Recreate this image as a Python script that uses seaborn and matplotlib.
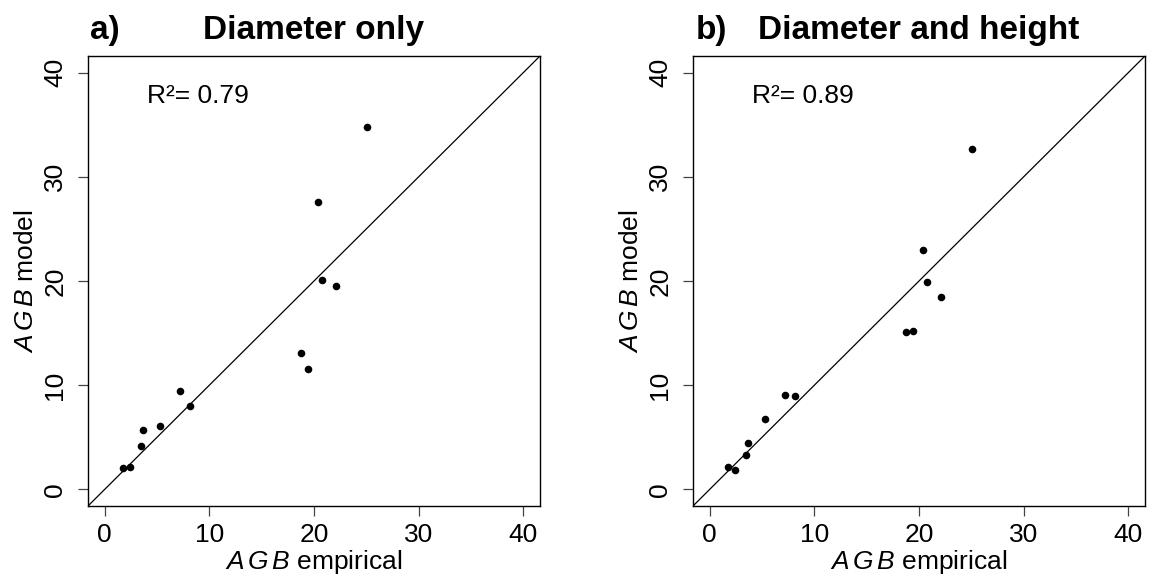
import matplotlib
matplotlib.use("Agg")
import matplotlib.pyplot as plt
import seaborn as sns
import pandas as pd

# AGB values
agb_empirical = [1.75, 2.43, 3.45, 3.70, 5.31, 7.21, 8.16, 18.77, 19.47, 20.40, 20.75, 22.13, 25.10]
agb_model_diam = [2.08, 2.14, 4.18, 5.72, 6.10, 9.46, 8.02, 13.07, 11.54, 27.58, 20.07, 19.56, 34.78]
agb_model_diam_height = [2.14, 1.85, 3.32, 4.41, 6.78, 9.04, 8.95, 15.08, 15.24, 22.94, 19.91, 18.44, 32.66]

panel_tags = ["a)", "b)"]
panel_titles = ["Diameter only", "Diameter and height"]
r2_labels = ["R²= 0.79", "R²= 0.89"]
ticks = [0, 10, 20, 30, 40]

sns.set_style("ticks")
plt.rcParams["font.family"] = ["Liberation Sans", "DejaVu Sans"]
plt.rcParams["mathtext.fontset"] = "custom"
plt.rcParams["mathtext.it"] = "Liberation Sans:italic"
plt.rcParams["mathtext.rm"] = "Liberation Sans"
for k in ["text.color", "axes.labelcolor", "xtick.labelcolor", "ytick.labelcolor"]:
    plt.rcParams[k] = "black"

fig = plt.figure(figsize=(11.49, 5.79), dpi=100)
lefts = [88 / 1149, 693 / 1149]
w = 452 / 1149
b = 73 / 579
h = 450 / 579

for i, model in enumerate([agb_model_diam, agb_model_diam_height]):
    ax = fig.add_axes([lefts[i], b, w, h])
    df = pd.DataFrame({"emp": agb_empirical, "mod": model})
    lo, hi = -1.6, 41.6
    ax.plot([lo, hi], [lo, hi], color="black", lw=0.9)
    sns.scatterplot(data=df, x="emp", y="mod", ax=ax, color="black",
                    s=30, edgecolor="black", linewidth=0, zorder=3)
    ax.set_xlim(lo, hi)
    ax.set_ylim(lo, hi)
    ax.set_xticks(ticks)
    ax.set_yticks(ticks)
    ax.set_xticklabels([str(t) for t in ticks], fontsize=19)
    ax.set_yticklabels([str(t) for t in ticks], fontsize=19, rotation=90, va="center")
    ax.tick_params(axis="both", direction="out", length=7, width=0.9, color="#444444")
    ax.tick_params(axis="x", pad=5)
    ax.tick_params(axis="y", pad=8)
    for s in ax.spines.values():
        s.set_visible(True)
        s.set_linewidth(1.0)
        s.set_color("black")
    ax.set_xlabel(r"$\mathit{A\,G\,B}$ empirical", fontsize=19, labelpad=1)
    ax.set_ylabel(r"$\mathit{A\,G\,B}$ model", fontsize=19, labelpad=4)
    ax.text(4.0, 37.8, r2_labels[i], fontsize=19, ha="left", va="center")
    ax.text(0.005, 1.038, panel_tags[i], transform=ax.transAxes, fontsize=24,
            fontweight="bold", ha="left", va="baseline")
    ax.text(0.5, 1.038, panel_titles[i], transform=ax.transAxes, fontsize=24,
            fontweight="bold", ha="center", va="baseline")

fig.savefig("out.png", dpi=100)
